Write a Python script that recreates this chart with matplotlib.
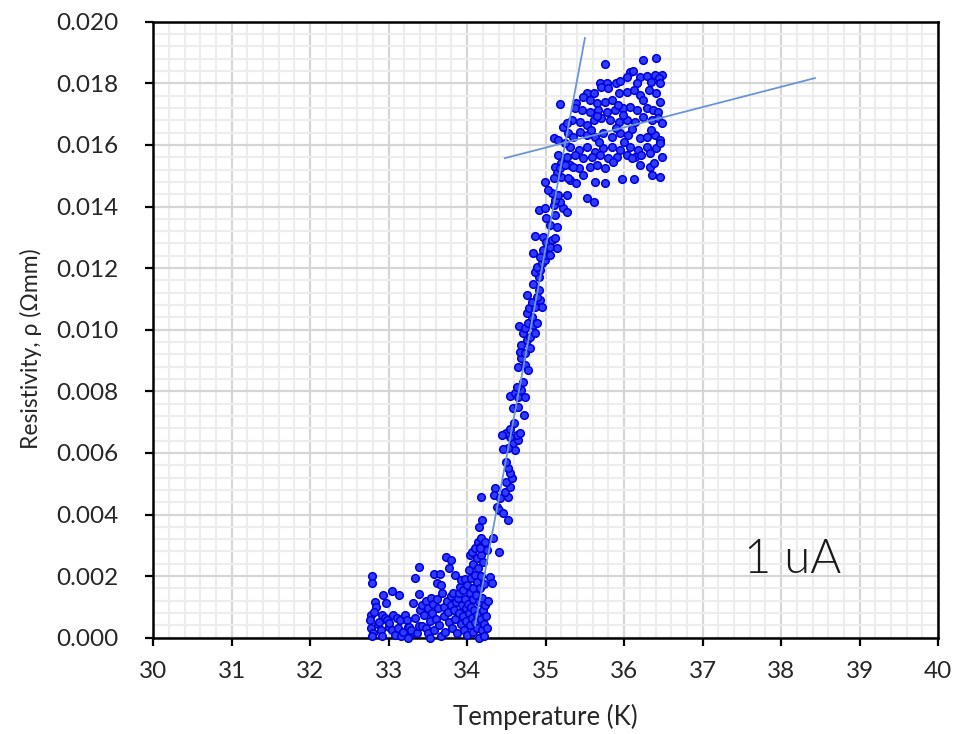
import matplotlib
matplotlib.use("Agg")
import matplotlib.pyplot as plt
from matplotlib.ticker import MultipleLocator, FormatStrFormatter
import numpy as np

plt.rcParams['font.family'] = ['Lato', 'DejaVu Sans']

# Measured resistivity (in units of 1e-3 ohm*mm) against temperature (K)
# Superconducting region near the bottom of the transition
low_pts = [
    (32.79, 2.00), (32.79, 1.79), (32.77, 0.74), (32.76, 0.57), (32.78, 0.30), (32.80, 0.14),
    (32.79, 0.05), (32.82, 1.17), (32.84, 1.00), (32.81, 0.85), (32.86, 0.45), (32.88, 0.52),
    (32.90, 0.25), (32.92, 0.74), (32.93, 1.39), (32.91, 0.05), (32.95, 0.63), (32.97, 1.14),
    (32.98, 0.57), (33.00, 0.35), (33.01, 0.47), (33.04, 1.53), (33.04, 0.25), (33.06, 0.74),
    (33.08, 0.10), (33.10, 0.63), (33.12, 0.30), (33.13, 1.39), (33.14, 0.57), (33.16, 0.05),
    (33.18, 0.20), (33.21, 0.74), (33.23, 0.57), (33.24, 0.36), (33.26, 0.36), (33.28, 0.15),
    (33.29, 0.25), (33.25, 0.00), (33.31, 1.14), (33.33, 0.63), (33.34, 1.93), (33.36, 0.14),
    (33.38, 2.31), (33.38, 1.42), (33.38, 0.38), (33.40, 0.90), (33.42, 0.38), (33.43, 1.05),
    (33.45, 0.74), (33.47, 1.20), (33.48, 0.30), (33.50, 0.14), (33.50, 0.95), (33.52, 0.55),
    (33.53, 0.00), (33.54, 1.30), (33.55, 0.80), (33.57, 1.10), (33.58, 2.07), (33.58, 0.25),
    (33.60, 0.60), (33.61, 1.77), (33.62, 1.25), (33.63, 0.95), (33.64, 0.40), (33.66, 2.07),
    (33.67, 1.71), (33.67, 0.05), (33.68, 1.45), (33.70, 1.00), (33.71, 0.70), (33.72, 0.20),
    (33.73, 2.63), (33.74, 1.20), (33.75, 0.85), (33.77, 2.25), (33.77, 0.50), (33.79, 2.52),
    (33.79, 1.05), (33.80, 1.35), (33.81, 0.30), (33.82, 1.44), (33.83, 0.90), (33.84, 2.04),
    (33.85, 0.60), (33.86, 1.15), (33.87, 0.15), (33.88, 1.30), (33.89, 1.44), (33.90, 0.80),
    (33.91, 1.66), (33.92, 1.87), (33.92, 0.45), (33.93, 1.05), (33.95, 1.55), (33.95, 0.70),
    (33.96, 0.25), (33.97, 1.89), (33.97, 1.25), (33.98, 0.95), (33.99, 0.55), (34.00, 1.70),
    (34.00, 0.10), (34.01, 1.10), (34.02, 2.20), (34.02, 0.80), (34.03, 2.68), (34.03, 1.45),
    (34.04, 0.40), (34.05, 1.95), (34.05, 1.00), (34.06, 2.79), (34.06, 0.65), (34.07, 1.60),
    (34.07, 0.20), (34.08, 2.40), (34.08, 1.25), (34.09, 0.90), (34.10, 2.90), (34.10, 2.05),
    (34.10, 0.50), (34.11, 1.40), (34.12, 2.60), (34.12, 0.75), (34.13, 1.80), (34.13, 0.30),
    (34.14, 3.10), (34.14, 2.25), (34.15, 1.15), (34.15, 0.00), (34.16, 2.95), (34.16, 1.60),
    (34.17, 2.70), (34.17, 0.60), (34.18, 3.23), (34.18, 2.00), (34.19, 1.30), (34.19, 0.25),
    (34.20, 2.45), (34.20, 0.90), (34.21, 1.75), (34.22, 0.45), (34.23, 1.05), (34.22, 0.05),
    (34.24, 0.70), (34.25, 0.30), (34.26, 1.20), (34.29, 1.98), (34.31, 1.77), (34.23, 3.12),
    (34.25, 2.85), (34.16, 2.90), (34.15, 3.60), (34.19, 3.82),
]

# Steep rise through the transition
trans_pts = [
    (34.17, 4.58), (34.33, 3.23), (34.40, 2.79), (34.35, 4.85), (34.34, 4.63), (34.38, 4.25),
    (34.41, 4.15), (34.45, 4.04), (34.52, 3.82), (34.42, 4.53), (34.52, 4.58), (34.48, 4.74),
    (34.54, 4.90), (34.50, 5.07), (34.57, 5.18), (34.54, 5.34), (34.52, 5.50), (34.50, 5.71),
    (34.61, 6.09), (34.59, 6.31), (34.52, 6.15), (34.46, 6.12), (34.65, 6.42), (34.63, 6.58),
    (34.54, 6.53), (34.50, 6.64), (34.44, 6.58), (34.55, 6.77), (34.67, 6.64), (34.60, 6.96),
    (34.72, 7.23), (34.58, 7.45), (34.65, 7.50), (34.54, 7.85), (34.61, 7.93), (34.65, 7.82),
    (34.74, 7.80), (34.69, 8.04), (34.63, 8.15), (34.71, 8.31), (34.65, 8.80), (34.74, 8.85),
    (34.78, 8.69), (34.69, 9.07), (34.67, 9.29), (34.74, 9.23), (34.80, 9.40), (34.69, 9.50),
    (34.76, 9.67), (34.71, 9.88), (34.80, 9.77), (34.86, 9.88), (34.66, 10.12), (34.74, 10.05),
    (34.77, 10.21), (34.84, 10.15), (34.89, 10.21), (34.82, 10.42), (34.76, 10.53), (34.79, 10.69),
    (34.86, 10.75), (34.82, 10.91), (34.76, 11.13), (34.93, 10.96), (34.95, 10.75), (34.89, 11.07),
    (34.91, 11.29), (34.84, 11.50), (34.91, 11.72), (34.86, 11.88), (34.93, 11.94), (34.89, 12.05),
    (34.95, 12.16), (34.99, 12.26), (35.01, 12.43), (34.93, 12.37), (34.97, 12.59), (35.05, 12.43),
    (34.84, 12.48), (34.86, 13.04), (34.97, 13.02), (35.01, 12.86), (35.08, 12.91), (35.12, 12.97),
    (35.05, 12.69), (35.14, 12.64), (35.01, 13.62), (35.05, 13.40), (35.14, 13.34), (35.12, 13.72),
    (35.22, 13.94), (35.18, 14.16), (35.27, 13.83), (34.92, 13.89), (34.99, 13.94), (35.10, 14.05),
    (35.08, 14.43), (35.12, 14.21), (35.16, 14.37), (35.27, 14.37), (35.03, 14.54), (34.99, 14.80),
]

# Normal-state region above the transition
high_pts = [
    (35.75, 18.63), (36.24, 18.76), (36.40, 18.83),
    (36.07, 18.36), (36.20, 18.21), (36.29, 18.24), (36.39, 18.27), (36.48, 18.27), (36.44, 18.16),
    (36.03, 18.19), (36.11, 18.40),
    (35.69, 18.02), (35.78, 18.02), (35.71, 17.89), (35.80, 17.84), (35.90, 18.00), (35.95, 18.09),
    (36.16, 18.00), (36.34, 18.05), (36.45, 18.02),
    (35.52, 17.67), (35.61, 17.69), (35.48, 17.55), (35.56, 17.46), (35.65, 17.35), (35.76, 17.40),
    (35.84, 17.46), (35.93, 17.69), (36.03, 17.73), (36.12, 17.78), (36.20, 17.62), (36.31, 17.78),
    (36.41, 17.67), (35.18, 17.33),
    (35.39, 17.35), (35.37, 17.19), (35.46, 17.13), (35.56, 17.08), (35.67, 17.13), (35.78, 17.08),
    (35.88, 17.13), (35.99, 17.19), (36.07, 17.24), (36.16, 17.13), (36.29, 17.19), (36.37, 17.13),
    (36.43, 17.08), (35.92, 17.30), (36.24, 17.45), (36.46, 17.40),
    (35.33, 16.81), (35.44, 16.75), (35.22, 16.59), (35.27, 16.70), (35.52, 16.65), (35.61, 16.81),
    (35.71, 16.86), (35.82, 16.81), (35.93, 16.75), (36.03, 16.81), (36.14, 16.75), (36.24, 16.92),
    (36.35, 16.81), (36.43, 16.86), (36.48, 16.70), (35.66, 16.95), (35.98, 16.98),
    (35.10, 16.21), (35.16, 16.16), (35.29, 16.38), (35.35, 16.27), (35.44, 16.43), (35.52, 16.32),
    (35.63, 16.27), (35.73, 16.38), (35.84, 16.27), (35.95, 16.38), (36.05, 16.32), (36.20, 16.21),
    (36.29, 16.27), (36.39, 16.32), (36.46, 16.16), (35.58, 16.50), (35.90, 16.55), (36.10, 16.52),
    (36.34, 16.50),
    (35.31, 15.94), (35.42, 15.83), (35.52, 15.94), (35.63, 15.78), (35.73, 15.89), (35.84, 15.94),
    (35.95, 15.83), (36.07, 15.94), (36.18, 15.83), (36.29, 15.94), (36.41, 15.89), (35.25, 16.05),
    (35.68, 16.08), (36.00, 16.10), (36.45, 16.05),
    (35.16, 15.67), (35.27, 15.62), (35.37, 15.67), (35.48, 15.56), (35.59, 15.62), (35.69, 15.67),
    (35.80, 15.56), (35.91, 15.62), (36.03, 15.67), (36.14, 15.62), (36.22, 15.67), (36.33, 15.73),
    (36.48, 15.62),
    (35.12, 15.29), (35.20, 15.40), (35.31, 15.35), (35.42, 15.24), (35.56, 15.29), (35.65, 15.35),
    (35.76, 15.24), (35.86, 15.45), (36.10, 15.56), (36.20, 15.35), (36.33, 15.29), (36.38, 15.40),
    (35.31, 14.86), (35.39, 14.75), (35.48, 15.02), (35.63, 14.80), (35.76, 14.75), (35.97, 14.89),
    (36.13, 14.89), (36.35, 15.02), (36.45, 14.95), (35.52, 14.27), (35.61, 14.16), (35.20, 14.97),
    (35.14, 15.08), (35.18, 15.24), (35.25, 15.35), (35.35, 15.29), (35.29, 14.92), (35.10, 14.92),
]

# Linear fits: transition slope and normal-state background
steep_fit_T = [34.10, 35.50]
steep_fit_rho = [0.40, 19.47]
flat_fit_T = [34.48, 38.43]
flat_fit_rho = [15.57, 18.17]

RHO_UNIT = 1e-3
current_label = "1 uA"

pts = np.array(low_pts + trans_pts + high_pts)
temp = pts[:, 0]
rho = pts[:, 1] * RHO_UNIT

fig = plt.figure(figsize=(9.72, 7.34), dpi=100)
ax = fig.add_axes([0.1576, 0.1312, 0.8076, 0.8392])

ax.set_xlim(30, 40)
ax.set_ylim(0, 0.020)
ax.xaxis.set_major_locator(MultipleLocator(1))
ax.xaxis.set_minor_locator(MultipleLocator(0.2))
ax.yaxis.set_major_locator(MultipleLocator(0.002))
ax.yaxis.set_minor_locator(MultipleLocator(0.0004))
ax.yaxis.set_major_formatter(FormatStrFormatter('%.3f'))

ax.grid(which='minor', color='#ededed', linewidth=1.6, zorder=0)
ax.grid(which='major', color='#d6d6d6', linewidth=1.6, zorder=0.5)
ax.set_axisbelow(True)

for side in ['left', 'bottom', 'top', 'right']:
    ax.spines[side].set_color('black')
    ax.spines[side].set_linewidth(1.8)

ax.tick_params(which='major', direction='out', length=5.8, width=1.6, color='black',
               labelsize=17.5, labelcolor='#262626')
ax.tick_params(axis='x', which='major', pad=11)
ax.tick_params(axis='y', which='major', pad=19)
ax.tick_params(which='minor', length=0)

ax.scatter(temp, rho, s=30, facecolor='#2f3cff', edgecolor='#0000d8', linewidths=1.1,
           zorder=3, clip_on=False)

ax.plot(steep_fit_T, np.array(steep_fit_rho) * RHO_UNIT, color='#6a95d8', linewidth=1.3, zorder=4)
ax.plot(flat_fit_T, np.array(flat_fit_rho) * RHO_UNIT, color='#6a95d8', linewidth=1.3, zorder=4)

ax.text(38.14, 0.00252, current_label, fontsize=34, ha='center', va='center',
        color='#1a1a1a', fontweight=300, zorder=5)

ax.set_xlabel('Temperature (K)', fontsize=18.5, color='#262626', va='center')
ax.xaxis.set_label_coords(0.4998, -0.1287)
ax.set_ylabel('Resistivity, ρ (Ωmm)', fontsize=16.5, color='#262626', va='center', ha='center')
ax.yaxis.set_label_coords(-0.1557, 0.47)

fig.savefig('out.png', dpi=100, facecolor='white')
